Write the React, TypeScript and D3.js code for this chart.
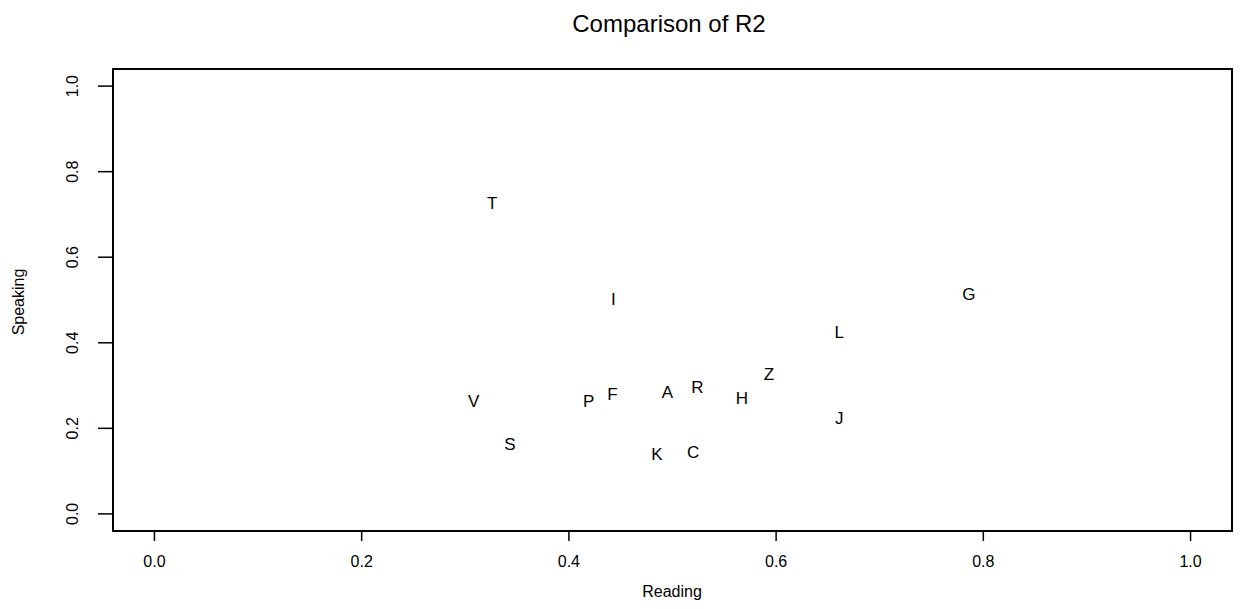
import React from "react";
import * as d3 from "d3";

const labels = ["T", "I", "V", "S", "P", "F", "A", "R", "H", "Z", "K", "C", "L", "J", "G"];
const reading = [0.326, 0.443, 0.308, 0.343, 0.419, 0.442, 0.495, 0.524, 0.567, 0.593, 0.485, 0.520, 0.661, 0.661, 0.786];
const speaking = [0.727, 0.502, 0.265, 0.163, 0.265, 0.280, 0.286, 0.296, 0.271, 0.326, 0.140, 0.144, 0.425, 0.224, 0.514];
const xTicks = [0, 0.2, 0.4, 0.6, 0.8, 1.0];
const yTicks = [0, 0.2, 0.4, 0.6, 0.8, 1.0];

const W = 1241;
const H = 609;
const left = 113;
const right = 1232;
const top = 69;
const bottom = 531;
const FONT = "'Liberation Sans', Arial, Helvetica, sans-serif";

export default function App() {
  const x = d3.scaleLinear().domain([-0.04, 1.04]).range([left, right]);
  const y = d3.scaleLinear().domain([-0.04, 1.04]).range([bottom, top]);
  const fmt = d3.format(".1f");
  return (
    <svg width={W} height={H} style={{ position: "absolute", left: 0, top: 0, background: "#fff" }} fontFamily={FONT}>
      <rect x={0} y={0} width={W} height={H} fill="#fff" />
      <text x={669} y={32} fontSize={24} textAnchor="middle" fill="#000">Comparison of R2</text>
      <rect x={left} y={top} width={right - left} height={bottom - top} fill="none" stroke="#000" strokeWidth={2} />
      {xTicks.map((t) => (
        <g key={"x" + t}>
          <line x1={x(t)} x2={x(t)} y1={bottom} y2={bottom + 10} stroke="#000" strokeWidth={1.5} />
          <text x={x(t)} y={567} fontSize={16} textAnchor="middle" fill="#000">{fmt(t)}</text>
        </g>
      ))}
      {yTicks.map((t) => (
        <g key={"y" + t}>
          <line x1={left} x2={left - 15} y1={y(t)} y2={y(t)} stroke="#000" strokeWidth={1.5} />
          <text transform={`translate(78,${y(t)}) rotate(-90)`} fontSize={16} textAnchor="middle" fill="#000">{fmt(t)}</text>
        </g>
      ))}
      <text x={672} y={597} fontSize={16} textAnchor="middle" fill="#000">Reading</text>
      <text transform={`translate(24,302) rotate(-90)`} fontSize={16} textAnchor="middle" fill="#000">Speaking</text>
      {labels.map((l, i) => (
        <text key={l} x={x(reading[i])} y={y(speaking[i]) + 6} fontSize={17} textAnchor="middle" fill="#000">{l}</text>
      ))}
    </svg>
  );
}
